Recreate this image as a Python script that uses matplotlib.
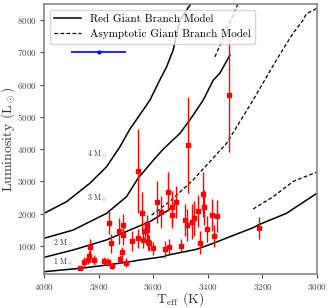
import matplotlib
matplotlib.use('Agg')
import matplotlib.pyplot as plt

plt.rcParams['font.family'] = 'serif'
plt.rcParams['font.serif'] = ['cmr10']
plt.rcParams['mathtext.fontset'] = 'cm'
plt.rcParams['axes.unicode_minus'] = False
plt.rcParams['axes.formatter.use_mathtext'] = True

# red giant branch model tracks (Teff, L)
rgb1_t = [4000, 3868, 3771, 3685, 3649, 3563, 3545, 3441, 3380, 3319, 3234, 3210, 3112, 3000]
rgb1_l = [195, 300, 400, 505, 558, 660, 713, 890, 1076, 1281, 1560, 1665, 2006, 2630]
rgb2_t = [4000, 3893, 3771, 3685, 3612, 3545, 3527]
rgb2_l = [640, 870, 1180, 1490, 1750, 2100, 2210]
rgb3_t = [4000, 3893, 3771, 3698, 3655, 3600, 3563, 3502, 3466, 3417, 3380, 3356, 3319]
rgb3_l = [1231, 1488, 2005, 2521, 3100, 3650, 4000, 4487, 4899, 5519, 6140, 6350, 6915]
rgb4_t = [4000, 3917, 3832, 3771, 3722, 3686, 3637, 3612, 3576, 3551, 3527, 3502, 3455]
rgb4_l = [2005, 2370, 2940, 3450, 4070, 4610, 5210, 5520, 6140, 6550, 7070, 8000, 8600]

# asymptotic giant branch model tracks
agb1_t = [3234, 3161, 3088, 3075, 3002]
agb1_l = [2140, 2520, 2990, 3040, 3280]
agb2_t = [3606, 3540, 3454, 3331, 3234, 3149, 3088, 3051, 3039, 3002]
agb2_l = [1950, 2370, 3040, 4180, 5520, 6760, 7590, 8000, 8200, 8360]
agb3_t = [3374, 3313, 3285]
agb3_l = [6860, 8050, 8600]

# observed stars
star_t = [3868, 3853, 3838, 3834, 3832, 3817, 3779, 3767, 3750, 3761, 3755, 3722,
          3724, 3712, 3710, 3713, 3700, 3678, 3657, 3655, 3640, 3637, 3630, 3624,
          3622, 3618, 3615, 3602, 3585, 3573, 3557, 3545, 3542, 3533, 3531, 3515,
          3500, 3484, 3478, 3472, 3457, 3452, 3435, 3427, 3419, 3413, 3404, 3386,
          3377, 3365, 3322, 3212]
star_l = [300, 505, 558, 680, 950, 558, 536, 505, 372, 1715, 1076, 580,
          1467, 1643, 1333, 816, 475, 1147, 1231, 3330, 2025, 1178, 1467, 1643,
          1488, 1126, 1076, 920, 2366, 2056, 899, 2676, 972, 2211, 1953, 2366,
          1003, 1798, 1643, 4124, 1746, 1850, 2077, 1096, 2595, 2192, 1519, 1953,
          1302, 1922, 5674, 1550]
star_err = [60, 150, 120, 150, 250, 140, 120, 120, 100, 350, 300, 120,
            400, 350, 300, 150, 130, 300, 300, 1300, 650, 250, 300, 300,
            300, 250, 250, 200, 650, 500, 250, 600, 250, 500, 400, 500,
            200, 500, 500, 1500, 550, 550, 500, 350, 700, 550, 400, 500,
            350, 500, 1750, 350]

# typical Teff uncertainty
ex_t = [3800]
ex_l = [7000]
ex_terr = [100]

mass_labels = ['1 M$_\\odot$', '2 M$_\\odot$', '3 M$_\\odot$', '4 M$_\\odot$']
label_t = [3929, 3929, 3807, 3807]
label_l = [505, 1075, 2480, 3845]

fig = plt.figure(figsize=(3.36, 3.08), dpi=100)
ax = fig.add_axes([0.131, 0.110, 0.8125, 0.877])

dash = (0, (3, 1.8))
ax.plot(rgb1_t, rgb1_l, color='black', lw=1.1, label='Red Giant Branch Model')
ax.plot(rgb2_t, rgb2_l, color='black', lw=1.1)
ax.plot(rgb3_t, rgb3_l, color='black', lw=1.1)
ax.plot(rgb4_t, rgb4_l, color='black', lw=1.1)
ax.plot(agb1_t, agb1_l, color='black', lw=0.9, ls=dash, label='Asymptotic Giant Branch Model')
ax.plot(agb2_t, agb2_l, color='black', lw=0.9, ls=dash)
ax.plot(agb3_t, agb3_l, color='black', lw=0.9, ls=dash)

ax.errorbar(star_t, star_l, yerr=star_err, fmt='s', color='red', ms=2.2,
            elinewidth=1.0, capsize=0, zorder=3)
ax.errorbar(ex_t, ex_l, xerr=ex_terr, fmt='o', color='blue', ms=2,
            elinewidth=1.2, capsize=0)

for txt, t, l in zip(mass_labels, label_t, label_l):
    ax.text(t, l, txt, fontsize=5.5, ha='center', va='center', color='#333333')

ax.set_xlim(4000, 3000)
ax.set_ylim(120, 8500)
ax.set_xticks([4000, 3800, 3600, 3400, 3200, 3000])
ax.set_yticks([1000, 2000, 3000, 4000, 5000, 6000, 7000, 8000])
ax.tick_params(labelsize=6.5, colors='#444444', length=3, pad=2.5)
for s in ax.spines.values():
    s.set_color('#888888')
    s.set_linewidth(1.2)

ax.set_xlabel('T$_{\\rm eff}$ (K)', fontsize=10, color='#333333')
ax.set_ylabel('Luminosity (L$_\\odot$)', fontsize=10, color='#333333')
ax.xaxis.set_label_coords(0.5, -0.092)
ax.xaxis.label.set_verticalalignment('center')
ax.yaxis.set_label_coords(-0.13, 0.5)
ax.yaxis.label.set_verticalalignment('center')

ax.legend(loc='upper left', fontsize=8, handlelength=2.4, framealpha=0.8)

fig.savefig('out.png', dpi=100)
